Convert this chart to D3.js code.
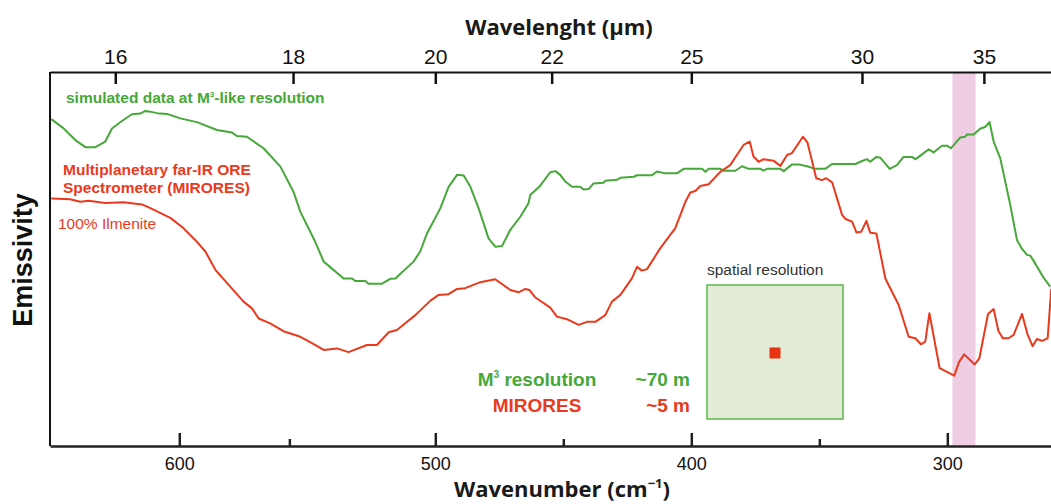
<!DOCTYPE html>
<html>
<head>
<meta charset="utf-8">
<script src="https://cdn.jsdelivr.net/npm/d3@7"></script>
<style>
  body { margin: 0; background: #fff; }
  svg { display: block; }
</style>
</head>
<body>
<div id="chart"></div>
<script>
// simulated M3-like spectrum (green)
const simWavenumber = [650, 645.3, 640.6, 636.7, 632.8, 628.9, 626.3, 622.4, 618.5, 615.2, 613.3, 611.3, 608.7, 604.8,
  599.6, 593.1, 585.3, 579.4, 577.5, 573.6, 567.1, 560.5, 555.4, 552.7, 546.9, 543.6, 535.8, 532.5, 531.3, 527.3,
  526.1, 520.8, 517.6, 515.6, 508.5, 505.9, 503.2, 498.0, 494.8, 491.5, 488.9, 486.3, 483.1, 479.2, 476.6, 473.9,
  470.7, 466.8, 463.6, 462.9, 459.0, 455.1, 453.1, 451.2, 449.2, 446.6, 443.4, 442.1, 440.1, 438.2, 434.3, 433.6,
  429.0, 427.7, 422.5, 421.2, 415.4, 413.4, 410.2, 405.6, 403.0, 395.8, 394.5, 393.2, 388.7, 387.4, 382.8, 380.2,
  377.6, 373.0, 371.8, 370.4, 365.2, 363.9, 360.7, 358.1, 354.8, 351.6, 347.7, 345.0, 335.9, 333.3, 331.4, 330.1,
  327.7, 326.2, 322.5, 319.7, 317.1, 313.8, 312.5, 311.2, 307.3, 305.4, 302.1, 300.1, 298.6, 294.9, 293.0, 292.3,
  289.7, 287.1, 285.2, 283.5, 281.9, 279.3, 275.4, 272.8, 270.8, 268.9, 267.6, 266.3, 262.4, 259.8];
const simEmissivity = [0.874, 0.850, 0.818, 0.799, 0.799, 0.814, 0.849, 0.869, 0.887, 0.889, 0.896, 0.894, 0.890, 0.888,
  0.876, 0.866, 0.845, 0.838, 0.829, 0.827, 0.796, 0.747, 0.680, 0.626, 0.546, 0.493, 0.448, 0.448, 0.441, 0.441,
  0.434, 0.434, 0.447, 0.448, 0.493, 0.520, 0.569, 0.636, 0.693, 0.725, 0.723, 0.693, 0.636, 0.555, 0.533, 0.535,
  0.578, 0.613, 0.649, 0.671, 0.696, 0.732, 0.735, 0.725, 0.707, 0.693, 0.693, 0.686, 0.687, 0.702, 0.704, 0.709,
  0.712, 0.717, 0.720, 0.724, 0.724, 0.734, 0.729, 0.729, 0.741, 0.741, 0.733, 0.741, 0.741, 0.736, 0.736, 0.748,
  0.741, 0.741, 0.736, 0.741, 0.741, 0.735, 0.753, 0.753, 0.748, 0.741, 0.741, 0.754, 0.754, 0.762, 0.767, 0.760,
  0.773, 0.771, 0.741, 0.751, 0.773, 0.773, 0.767, 0.773, 0.793, 0.785, 0.803, 0.803, 0.796, 0.825, 0.827, 0.833,
  0.833, 0.849, 0.853, 0.866, 0.814, 0.769, 0.644, 0.551, 0.527, 0.511, 0.509, 0.495, 0.450, 0.426];

// MIRORES spectrum, 100% ilmenite (red)
const miroresWavenumber = [650, 642.6, 638.7, 635.4, 628.9, 621.8, 614.6, 611.3, 603.5, 598.3, 593.1, 589.8, 585.9, 580.1,
  574.9, 571.6, 569.0, 564.5, 559.3, 552.7, 548.2, 543.6, 538.4, 533.9, 526.7, 522.8, 518.2, 515.0, 507.8, 502.0,
  498.7, 494.8, 491.5, 488.3, 482.4, 476.6, 470.7, 467.5, 464.8, 463.2, 460.9, 455.1, 452.5, 448.6, 444.0, 440.8,
  437.5, 433.6, 431.0, 427.7, 423.2, 421.2, 419.3, 417.3, 412.1, 406.3, 402.3, 400.4, 398.4, 396.5, 393.2, 388.7,
  384.8, 382.2, 379.6, 377.2, 375.7, 373.7, 371.8, 367.9, 365.2, 362.6, 360.7, 356.4, 354.6, 351.2, 349.0, 347.3,
  345.0, 341.1, 339.8, 337.2, 335.5, 333.6, 331.6, 330.1, 327.7, 324.2, 319.0, 315.1, 312.5, 310.3, 308.6, 307.0,
  303.0, 297.3, 295.4, 293.4, 289.3, 287.5, 284.1, 281.9, 280.0, 278.3, 276.1, 274.1, 270.8, 268.6, 266.7, 265.0,
  263.0, 260.8, 259.4];
const miroresEmissivity = [0.662, 0.660, 0.653, 0.656, 0.650, 0.652, 0.646, 0.636, 0.610, 0.582, 0.546, 0.520, 0.471, 0.426,
  0.386, 0.368, 0.341, 0.328, 0.307, 0.292, 0.275, 0.257, 0.261, 0.251, 0.270, 0.270, 0.304, 0.310, 0.350, 0.388,
  0.404, 0.406, 0.420, 0.422, 0.438, 0.446, 0.417, 0.411, 0.420, 0.417, 0.397, 0.370, 0.346, 0.339, 0.324, 0.332,
  0.332, 0.350, 0.386, 0.404, 0.448, 0.479, 0.469, 0.473, 0.529, 0.582, 0.653, 0.678, 0.682, 0.695, 0.700, 0.733,
  0.751, 0.778, 0.805, 0.814, 0.774, 0.760, 0.767, 0.763, 0.749, 0.778, 0.783, 0.827, 0.811, 0.716, 0.711, 0.716,
  0.705, 0.618, 0.607, 0.600, 0.571, 0.573, 0.602, 0.570, 0.568, 0.448, 0.377, 0.292, 0.288, 0.272, 0.279, 0.355,
  0.208, 0.188, 0.225, 0.245, 0.218, 0.234, 0.353, 0.366, 0.307, 0.288, 0.288, 0.297, 0.353, 0.297, 0.267, 0.286,
  0.281, 0.288, 0.420];

const wavenumberTicks = [600, 500, 400, 300];
const wavenumberMinorTicks = [557, 450, 350];
const wavelengthTicks = [16, 18, 20, 22, 25, 30, 35];
const highlightBand = [298, 289];

const fullWidth = 1051, fullHeight = 504;
const margin = { top: 72, right: 0, bottom: 58, left: 50 };
const plotBottom = fullHeight - margin.bottom;

const green = "#45a838", red = "#ea3a1d";
const labelFont = "Liberation Sans, Arial, sans-serif";

const svg = d3.select("#chart").append("svg")
  .attr("width", fullWidth)
  .attr("height", fullHeight);

const x = d3.scaleLinear().domain([650.5, 259.5]).range([margin.left, fullWidth - margin.right]);
const y = d3.scaleLinear().domain([0, 1]).range([plotBottom, margin.top]);

svg.append("clipPath").attr("id", "clip")
  .append("rect")
  .attr("x", margin.left).attr("y", margin.top)
  .attr("width", fullWidth - margin.left).attr("height", plotBottom - margin.top);

// pink band
svg.append("rect")
  .attr("x", x(highlightBand[0]))
  .attr("y", margin.top)
  .attr("width", x(highlightBand[1]) - x(highlightBand[0]))
  .attr("height", plotBottom - margin.top)
  .attr("fill", "#efcde3");

// inset box
svg.append("text")
  .attr("x", 707).attr("y", 275)
  .style("font-family", labelFont)
  .style("font-size", "15.5px")
  .style("fill", "#333")
  .text("spatial resolution");

svg.append("rect")
  .attr("x", 707).attr("y", 285)
  .attr("width", 136).attr("height", 134)
  .attr("fill", "#e3ecd7")
  .attr("stroke", "#5cb84b")
  .attr("stroke-width", 1.5);

svg.append("rect")
  .attr("x", 769.5).attr("y", 347.5)
  .attr("width", 11).attr("height", 11)
  .attr("fill", "#e63312");

// curves
const line = d3.line()
  .x(d => x(d[0]))
  .y(d => y(d[1]));

const simData = simWavenumber.map((w, i) => [w, simEmissivity[i]]);
const miroresData = miroresWavenumber.map((w, i) => [w, miroresEmissivity[i]]);

const curves = svg.append("g").attr("clip-path", "url(#clip)");

curves.append("path")
  .datum(simData)
  .attr("d", line)
  .attr("fill", "none")
  .attr("stroke", green)
  .attr("stroke-width", 2)
  .attr("stroke-linejoin", "round");

curves.append("path")
  .datum(miroresData)
  .attr("d", line)
  .attr("fill", "none")
  .attr("stroke", red)
  .attr("stroke-width", 2)
  .attr("stroke-linejoin", "round");

// bottom axis
const bottomAxis = svg.append("g")
  .attr("transform", `translate(0,${plotBottom})`)
  .call(d3.axisBottom(x)
    .tickValues(wavenumberTicks)
    .tickSizeInner(-13)
    .tickSizeOuter(0)
    .tickPadding(11));

bottomAxis.select(".domain").attr("stroke", "#222").attr("stroke-width", 2.5);
bottomAxis.selectAll(".tick line").attr("stroke", "#222").attr("stroke-width", 2.5);
bottomAxis.selectAll(".tick text")
  .style("font-family", labelFont)
  .style("font-size", "18px")
  .style("fill", "#111");

const minorAxis = svg.append("g")
  .attr("transform", `translate(0,${plotBottom})`)
  .call(d3.axisBottom(x)
    .tickValues(wavenumberMinorTicks)
    .tickSizeInner(-7)
    .tickSizeOuter(0)
    .tickFormat(""));
minorAxis.select(".domain").remove();
minorAxis.selectAll(".tick line").attr("stroke", "#222").attr("stroke-width", 2.5);

// top axis (wavelength in µm)
const topAxis = svg.append("g")
  .attr("transform", `translate(0,${margin.top})`)
  .call(d3.axisTop(x)
    .tickValues(wavelengthTicks.map(um => 10000 / um))
    .tickFormat(d => Math.round(10000 / d))
    .tickSizeInner(-12)
    .tickSizeOuter(0)
    .tickPadding(8));

topAxis.select(".domain").attr("stroke", "#111").attr("stroke-width", 2);
topAxis.selectAll(".tick line").attr("stroke", "#111").attr("stroke-width", 2.5);
topAxis.selectAll(".tick text")
  .style("font-family", labelFont)
  .style("font-size", "21px")
  .style("fill", "#111");

// left axis line
svg.append("line")
  .attr("x1", margin.left).attr("x2", margin.left)
  .attr("y1", margin.top).attr("y2", plotBottom)
  .attr("stroke", "#111")
  .attr("stroke-width", 2);

// axis titles
svg.append("text")
  .attr("x", 559).attr("y", 35)
  .attr("text-anchor", "middle")
  .style("font-family", "Open Sans, sans-serif")
  .style("font-weight", "bold")
  .style("font-size", "22px")
  .style("fill", "#1a1a1a")
  .text("Wavelenght (µm)");

const xTitle = svg.append("text")
  .attr("x", 562).attr("y", 497)
  .attr("text-anchor", "middle")
  .style("font-family", "Open Sans, sans-serif")
  .style("font-weight", "bold")
  .style("font-size", "22px")
  .style("fill", "#1a1a1a");
xTitle.append("tspan").text("Wavenumber (cm");
xTitle.append("tspan").attr("dy", -9).style("font-size", "13px").text("−1");
xTitle.append("tspan").attr("dy", 9).text(")");

svg.append("text")
  .attr("transform", "translate(32,260) rotate(-90)")
  .attr("text-anchor", "middle")
  .style("font-family", labelFont)
  .style("font-weight", "bold")
  .style("font-size", "27px")
  .style("fill", "#111")
  .text("Emissivity");

// curve labels
const simLabel = svg.append("text")
  .attr("x", 66).attr("y", 103)
  .style("font-family", labelFont)
  .style("font-weight", "bold")
  .style("font-size", "15.5px")
  .style("fill", green);
simLabel.append("tspan").text("simulated data at M");
simLabel.append("tspan").attr("dy", -6).style("font-size", "8px").text("3");
simLabel.append("tspan").attr("dy", 6).text("-like resolution");

svg.append("text")
  .attr("x", 63).attr("y", 175)
  .style("font-family", labelFont)
  .style("font-weight", "bold")
  .style("font-size", "15.5px")
  .style("fill", red)
  .text("Multiplanetary far-IR ORE");

svg.append("text")
  .attr("x", 63).attr("y", 193)
  .style("font-family", labelFont)
  .style("font-weight", "bold")
  .style("font-size", "15.5px")
  .style("fill", red)
  .text("Spectrometer (MIRORES)");

svg.append("text")
  .attr("x", 58).attr("y", 229)
  .style("font-family", labelFont)
  .style("font-size", "15.5px")
  .style("fill", red)
  .text("100% Ilmenite");

// resolution legend
const m3 = svg.append("text")
  .attr("x", 537).attr("y", 386)
  .attr("text-anchor", "middle")
  .style("font-family", labelFont)
  .style("font-weight", "bold")
  .style("font-size", "19px")
  .style("fill", green);
m3.append("tspan").text("M");
m3.append("tspan").attr("dy", -8).style("font-size", "10px").text("3");
m3.append("tspan").attr("dy", 8).text(" resolution");

svg.append("text")
  .attr("x", 690).attr("y", 386)
  .attr("text-anchor", "end")
  .style("font-family", labelFont)
  .style("font-weight", "bold")
  .style("font-size", "19px")
  .style("fill", green)
  .text("~70 m");

svg.append("text")
  .attr("x", 537).attr("y", 412)
  .attr("text-anchor", "middle")
  .style("font-family", labelFont)
  .style("font-weight", "bold")
  .style("font-size", "19px")
  .style("fill", red)
  .text("MIRORES");

svg.append("text")
  .attr("x", 690).attr("y", 412)
  .attr("text-anchor", "end")
  .style("font-family", labelFont)
  .style("font-weight", "bold")
  .style("font-size", "19px")
  .style("fill", red)
  .text("~5 m");
</script>
</body>
</html>
